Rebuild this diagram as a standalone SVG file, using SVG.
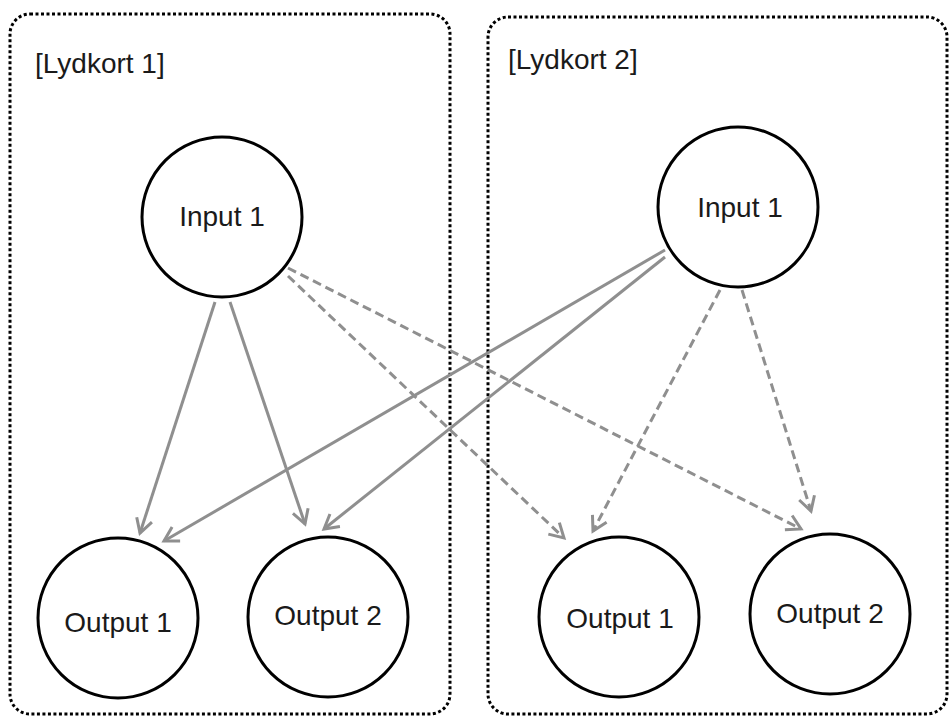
<svg xmlns="http://www.w3.org/2000/svg" width="949" height="718" viewBox="0 0 949 718">
<style>
.box{fill:none;stroke:#000;stroke-width:3;stroke-dasharray:3 2.5}
.node{fill:#fff;stroke:#000;stroke-width:3}
.lbl{font-family:"Liberation Sans",Arial,sans-serif;font-size:28px;fill:#1a1a1a}
.nt{font-family:"Liberation Sans",Arial,sans-serif;font-size:28px;fill:#1a1a1a;text-anchor:middle}
.c{fill:none;stroke:#8f8f8f;stroke-width:3}
.d{stroke-dasharray:9 5}
</style>
<defs>
<marker id="ah" markerUnits="userSpaceOnUse" markerWidth="24" markerHeight="24" viewBox="-18 -12 24 24" refX="0" refY="0" orient="auto">
<path d="M-14,-8 L0,0 L-14,8" fill="none" stroke="#8f8f8f" stroke-width="3"/>
</marker>
</defs>
<rect class="box" x="10" y="14" width="440" height="700" rx="20" ry="20"/>
<rect class="box" x="488" y="17" width="459" height="697" rx="20" ry="20"/>
<text class="lbl" x="35" y="73">[Lydkort 1]</text>
<text class="lbl" x="508" y="69">[Lydkort 2]</text>
<g id="connectors">
<line class="c" x1="215" y1="302" x2="140" y2="533" marker-end="url(#ah)"/>
<line class="c" x1="230" y1="302" x2="305" y2="524" marker-end="url(#ah)"/>
<line class="c" x1="665" y1="250" x2="164" y2="541" marker-end="url(#ah)"/>
<line class="c" x1="665" y1="257" x2="324" y2="529" marker-end="url(#ah)"/>
<line class="c d" x1="288" y1="276" x2="564" y2="538" marker-end="url(#ah)"/>
<line class="c d" x1="288" y1="268" x2="801" y2="529" marker-end="url(#ah)"/>
<line class="c d" x1="720" y1="290" x2="593" y2="531" marker-end="url(#ah)"/>
<line class="c d" x1="742" y1="290" x2="811" y2="511" marker-end="url(#ah)"/>
</g>
<g id="in1a"><circle class="node" cx="222" cy="217" r="80"/><text class="nt" x="222" y="226">Input 1</text></g>
<g id="in1b"><circle class="node" cx="738" cy="207" r="80"/><text class="nt" x="740" y="217">Input 1</text></g>
<g id="out1a"><circle class="node" cx="118" cy="618" r="80"/><text class="nt" x="118" y="632">Output 1</text></g>
<g id="out2a"><circle class="node" cx="328" cy="617" r="80"/><text class="nt" x="328" y="625">Output 2</text></g>
<g id="out1b"><circle class="node" cx="619" cy="617" r="80"/><text class="nt" x="620" y="628">Output 1</text></g>
<g id="out2b"><circle class="node" cx="830" cy="614" r="80"/><text class="nt" x="830" y="623">Output 2</text></g>
</svg>
